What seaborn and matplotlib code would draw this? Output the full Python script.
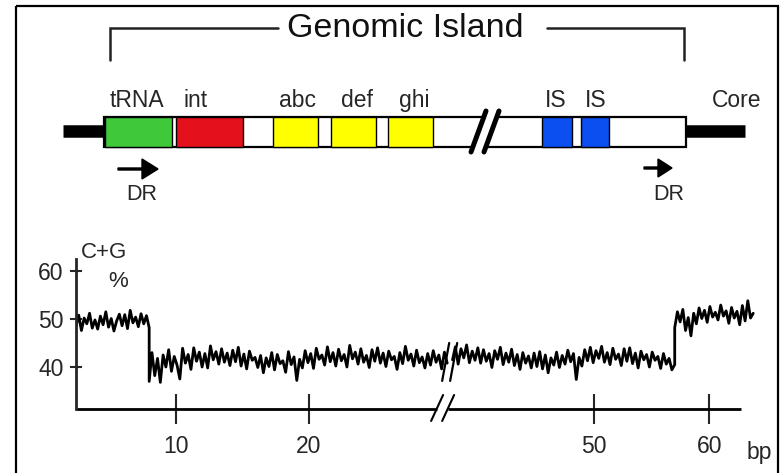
import numpy as np
import pandas as pd
import seaborn as sns
import matplotlib.pyplot as plt
from matplotlib.patches import Rectangle, Polygon

# ---- gene map of the island (schematic units, left to right) ----
gene_labels = ["tRNA", "int", "abc", "def", "ghi", "IS", "IS"]
gene_start = [105, 176, 273, 331, 388, 542, 581]
gene_end = [172, 243, 318, 376, 433, 572, 609]
gene_kind = ["tRNA", "int", "cargo", "cargo", "cargo", "IS", "IS"]
label_x = [137, 196, 297, 357, 414, 556, 596]
island_span = [104, 686]
core_left = [63, 104]
core_right = [686, 745]

# ---- C+G content trace (%), four stretches ----
gc_left = [48.5, 50.8, 47.6, 50.2, 49.0, 51.2, 48.1, 49.8, 47.9, 50.6,
           48.8, 51.5, 48.3, 50.1, 47.5, 49.6, 51.0, 48.6, 50.9, 48.0,
           51.8, 49.2, 50.4, 48.4, 51.1, 49.0, 50.7, 48.2]
gc_island_a = [37.0, 43.0, 38.2, 41.8, 36.8, 42.5, 40.0, 43.6, 39.1, 42.2,
               40.4, 37.5, 43.9, 40.8, 42.6, 39.5, 44.0, 41.2, 43.1, 40.0,
               42.8, 39.8, 44.4, 41.5, 43.2, 40.6, 43.8, 41.0, 42.9, 40.3,
               43.5, 41.1, 44.1, 40.2, 42.7, 39.6, 43.3, 41.4, 42.0, 39.9,
               42.4, 38.8, 41.9, 40.1, 43.0, 39.4, 42.6, 40.7, 41.3, 38.9,
               43.2, 40.5, 42.1, 37.2, 41.6, 39.8, 43.4, 40.9, 42.8, 39.7,
               43.9, 41.6, 42.5, 40.4, 44.2, 41.1, 43.0, 40.2, 43.7, 41.3,
               42.6, 40.0, 44.5, 41.7, 43.1, 40.6, 43.8, 41.0, 42.4, 39.9,
               43.6, 41.2, 44.0, 40.8, 42.9, 40.1, 43.3, 41.5, 42.2, 39.5,
               43.0, 40.7, 44.3, 41.4, 42.7, 40.2, 43.5, 40.9, 42.1, 39.8,
               42.8, 40.4, 43.4, 41.0, 42.5, 39.6, 43.1, 40.8]
gc_island_b = [41.5, 44.2, 40.6, 43.8, 41.9, 44.6, 40.9, 43.3, 41.4, 44.0,
               40.8, 43.6, 41.2, 42.8, 39.9, 43.4, 41.6, 44.1, 40.5, 42.9,
               41.0, 43.7, 40.3, 42.6, 39.5, 43.0, 40.8, 42.3, 39.8, 42.9,
               40.1, 43.2, 39.6, 42.5, 38.8, 41.9, 40.4, 43.1, 39.9, 42.4,
               40.6, 43.5, 41.1, 42.8, 37.4, 42.0, 40.2, 43.6, 41.3, 44.1,
               40.9, 43.4, 41.8, 44.3, 41.0, 43.0, 40.5, 43.9, 41.6, 42.7,
               40.3, 43.8, 41.2, 44.0, 40.7, 42.9, 39.8, 43.3, 41.5, 42.6,
               40.0, 43.1, 41.4, 42.2, 39.7, 42.8, 40.6, 41.8, 39.4, 40.5]
gc_right = [48.2, 51.5, 49.4, 52.0, 47.6, 50.3, 46.5, 51.2, 49.0, 52.3,
            50.1, 51.8, 49.3, 52.6, 50.4, 51.4, 49.8, 52.9, 50.6, 51.7,
            49.1, 52.4, 50.2, 51.6, 48.8, 52.8, 49.6, 53.8, 50.2, 51.2]
# where each stretch begins/ends along the drawn axis
seg_edges = [(2.5, 8.0), (8.0, 30.4), (30.8, 47.5), (47.5, 53.4)]
x_break = 30.6

tick_pos = [10, 20, 41.4, 50.1]
tick_labels = ["10", "20", "50", "60"]
y_ticks = [40, 50, 60]

# long table for seaborn
parts = []
for i, (vals, (a, b)) in enumerate(zip([gc_left, gc_island_a, gc_island_b, gc_right], seg_edges)):
    parts.append(pd.DataFrame({"pos": np.linspace(a, b, len(vals)), "gc": vals,
                               "piece": 0 if i < 2 else 1}))
df = pd.concat(parts, ignore_index=True)

sns.set_style("ticks")
plt.rcParams["font.family"] = ["Liberation Sans", "DejaVu Sans"]

fig = plt.figure(figsize=(7.8, 4.73), dpi=100)

# overlay in pixel units for the schematic
ov = fig.add_axes([0, 0, 1, 1])
ov.set_xlim(0, 780)
ov.set_ylim(473, 0)
ov.axis("off")

ov.add_patch(Rectangle((16, 6), 762, 480, fill=False, lw=1.6, ec="black"))

# bracket + title
ov.plot([110, 110, 278], [60, 28, 28], color="#222222", lw=1.8, solid_joinstyle="miter")
ov.plot([547, 684, 684], [28, 28, 60], color="#222222", lw=1.8, solid_joinstyle="miter")
ov.text(405, 37, "Genomic Island", ha="center", va="baseline", fontsize=24.5, color="#111111")

# core chromosome and island bar
ov.plot(core_left, [131.5, 131.5], color="black", lw=9, solid_capstyle="butt")
ov.plot(core_right, [131.5, 131.5], color="black", lw=9, solid_capstyle="butt")
ov.barh(132, island_span[1] - island_span[0], left=island_span[0], height=30,
        color="white", edgecolor="black", lw=1.6)

palette = {"tRNA": "#3fc83a", "int": "#e4101c", "cargo": "#ffff00", "IS": "#0b4ff0"}
widths = [e - s for s, e in zip(gene_start, gene_end)]
ov.barh([132] * len(gene_start), widths, left=gene_start, height=30,
        color=[palette[k] for k in gene_kind], edgecolor="black", lw=1.0)

for lx, name in zip(label_x, gene_labels):
    ov.text(lx, 107, name, ha="center", va="baseline", fontsize=16.5)
ov.text(737, 107, "Core", ha="center", va="baseline", fontsize=16.5)

# break in the island bar
ov.add_patch(Polygon([(473, 150), (486, 114), (497, 114), (484, 150)], color="white", zorder=3))
ov.plot([471, 486], [152, 111], color="black", lw=3.6, zorder=4)
ov.plot([484, 499], [152, 111], color="black", lw=3.6, zorder=4)

# direct repeats
ov.arrow(118, 169, 40, 0, width=2, head_width=20, head_length=16,
         length_includes_head=True, color="black")
ov.arrow(644, 168, 28, 0, width=2, head_width=18, head_length=14,
         length_includes_head=True, color="black")
ov.text(142, 200, "DR", ha="center", va="baseline", fontsize=15.5)
ov.text(669, 200, "DR", ha="center", va="baseline", fontsize=15.5)

# C+G plot
ax = fig.add_axes([76 / 780, 1 - 409 / 473, (774.5 - 76) / 780, 150 / 473])
ax.patch.set_alpha(0)
sns.lineplot(data=df, x="pos", y="gc", units="piece", estimator=None, sort=False,
             color="black", lw=2.0, ax=ax, legend=False)
ax.set_xlim(2.5, 55)
ax.set_ylim(31.25, 62.5)
ax.set_xlabel("")
ax.set_ylabel("")
sns.despine(ax=ax)
ax.spines["bottom"].set_visible(False)
ax.spines["left"].set_linewidth(2)
ax.set_xticks(tick_pos, tick_labels)
ax.set_yticks(y_ticks)
ax.tick_params(axis="x", direction="inout", length=22, width=1.5, pad=8,
               labelsize=16.5, bottom=True)
ax.tick_params(axis="y", direction="inout", length=9, width=1.5, pad=4.5,
               labelsize=16.5, left=True)

# broken x axis
y0 = 31.25
ax.plot([2.5, x_break - 1.0], [y0, y0], color="black", lw=2, clip_on=False, solid_capstyle="butt")
ax.plot([x_break - 0.17, 52.5], [y0, y0], color="black", lw=2, clip_on=False, solid_capstyle="butt")
for dx in (-1.41, -0.58):
    ax.plot([x_break + dx, x_break + dx + 0.9], [28.75, 34.17], color="black", lw=1.5, clip_on=False)
# break marks on the trace
for dx in (-0.58, 0.02):
    ax.plot([x_break + dx, x_break + dx + 0.53], [37.1, 45.0], color="black", lw=1.6)

ov.text(104, 258, "C+G", ha="center", va="baseline", fontsize=16)
ov.text(118, 287, "%", ha="center", va="baseline", fontsize=16)
ov.text(747, 459, "bp", ha="left", va="baseline", fontsize=16.5)

fig.savefig("out.png", dpi=100)
